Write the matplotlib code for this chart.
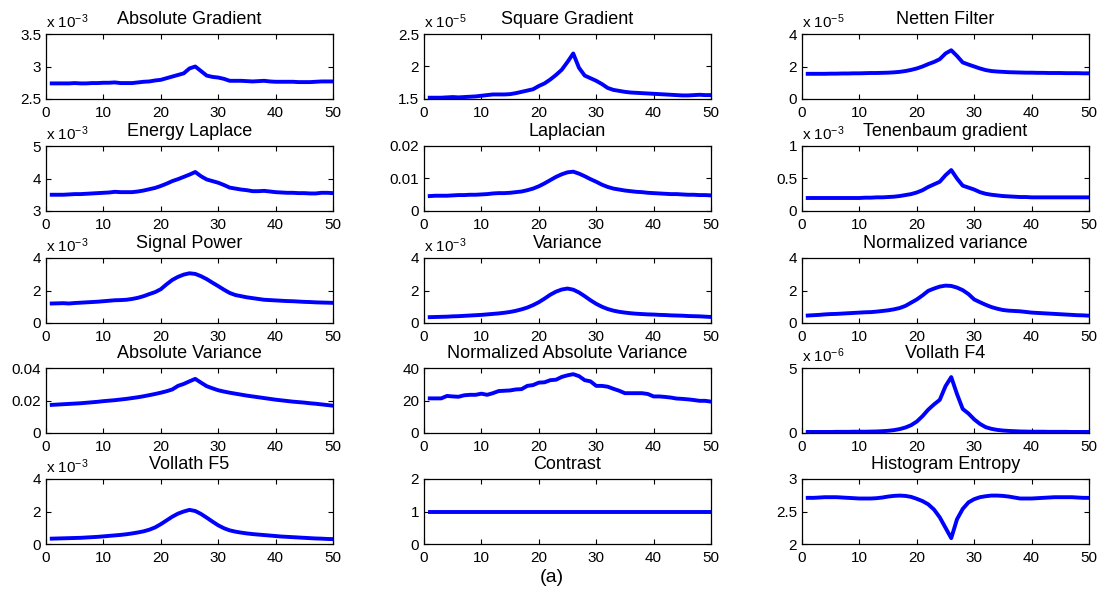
import numpy as np
import matplotlib
matplotlib.use('Agg')
import matplotlib.pyplot as plt
from matplotlib.ticker import FuncFormatter

plt.rcParams['font.family'] = ['Liberation Sans', 'DejaVu Sans']
plt.rcParams['mathtext.fontset'] = 'custom'
plt.rcParams['mathtext.rm'] = 'Liberation Sans'
plt.rcParams['mathtext.it'] = 'Liberation Sans:italic'

# focus measure curves over the 50 frames of the stack
frames = np.arange(1, 51)

abs_gradient = [2.74, 2.74, 2.74, 2.74, 2.745, 2.74, 2.74, 2.745, 2.745, 2.75,
                2.75, 2.755, 2.745, 2.745, 2.745, 2.755, 2.765, 2.77, 2.785, 2.795,
                2.82, 2.845, 2.87, 2.895, 2.97, 3.0, 2.93, 2.86, 2.84, 2.83,
                2.81, 2.78, 2.78, 2.78, 2.775, 2.77, 2.775, 2.78, 2.77, 2.765,
                2.765, 2.765, 2.765, 2.76, 2.76, 2.76, 2.765, 2.77, 2.77, 2.77]
sq_gradient = [1.52, 1.52, 1.52, 1.525, 1.53, 1.525, 1.53, 1.535, 1.54, 1.55,
               1.56, 1.57, 1.57, 1.57, 1.575, 1.59, 1.61, 1.63, 1.65, 1.70,
               1.74, 1.80, 1.87, 1.95, 2.07, 2.20, 1.98, 1.86, 1.82, 1.78,
               1.73, 1.67, 1.64, 1.625, 1.61, 1.60, 1.595, 1.59, 1.585, 1.58,
               1.575, 1.57, 1.565, 1.56, 1.555, 1.555, 1.56, 1.565, 1.56, 1.56]
netten = [1.55, 1.55, 1.55, 1.55, 1.56, 1.56, 1.57, 1.57, 1.58, 1.58,
          1.59, 1.6, 1.6, 1.61, 1.62, 1.64, 1.67, 1.72, 1.79, 1.88,
          2.0, 2.15, 2.28, 2.45, 2.8, 3.0, 2.65, 2.25, 2.12, 2.0,
          1.88, 1.78, 1.72, 1.69, 1.67, 1.65, 1.64, 1.63, 1.62, 1.62,
          1.61, 1.61, 1.6, 1.6, 1.6, 1.59, 1.59, 1.59, 1.58, 1.58]
energy_lap = [3.5, 3.5, 3.5, 3.51, 3.52, 3.52, 3.53, 3.54, 3.55, 3.56,
              3.57, 3.59, 3.58, 3.58, 3.58, 3.6, 3.63, 3.67, 3.71, 3.77,
              3.84, 3.92, 3.98, 4.05, 4.12, 4.2, 4.07, 3.97, 3.92, 3.87,
              3.8, 3.72, 3.69, 3.66, 3.64, 3.61, 3.61, 3.62, 3.6, 3.58,
              3.57, 3.56, 3.56, 3.55, 3.55, 3.54, 3.54, 3.56, 3.56, 3.55]
laplacian = [0.0046, 0.0047, 0.0047, 0.0047, 0.0048, 0.0049, 0.0049, 0.005, 0.005, 0.0051,
             0.0052, 0.0054, 0.0055, 0.0055, 0.0056, 0.0058, 0.006, 0.0064, 0.0069, 0.0076,
             0.0085, 0.0095, 0.0105, 0.0113, 0.0119, 0.0121, 0.0115, 0.0107, 0.0098, 0.009,
             0.0081, 0.0074, 0.0069, 0.0066, 0.0063, 0.0061, 0.0059, 0.0058, 0.0056, 0.0055,
             0.0054, 0.0053, 0.0052, 0.0052, 0.0051, 0.005, 0.005, 0.0049, 0.0049, 0.0048]
tenenbaum = [0.2, 0.2, 0.2, 0.2, 0.2, 0.2, 0.2, 0.2, 0.2, 0.2,
             0.205, 0.205, 0.21, 0.21, 0.215, 0.22, 0.23, 0.245, 0.26, 0.285,
             0.32, 0.37, 0.41, 0.45, 0.55, 0.63, 0.5, 0.39, 0.36, 0.33,
             0.29, 0.265, 0.25, 0.24, 0.23, 0.225, 0.22, 0.215, 0.215, 0.21,
             0.21, 0.21, 0.21, 0.21, 0.21, 0.21, 0.21, 0.21, 0.21, 0.21]
signal_power = [1.2, 1.21, 1.22, 1.2, 1.23, 1.25, 1.27, 1.29, 1.31, 1.34,
                1.37, 1.4, 1.41, 1.43, 1.48, 1.55, 1.65, 1.78, 1.9, 2.08,
                2.38, 2.65, 2.84, 2.98, 3.06, 3.02, 2.88, 2.7, 2.48, 2.27,
                2.05, 1.85, 1.72, 1.65, 1.58, 1.53, 1.48, 1.43, 1.41, 1.39,
                1.37, 1.35, 1.34, 1.32, 1.3, 1.29, 1.27, 1.26, 1.25, 1.24]
variance = [0.36, 0.37, 0.38, 0.39, 0.41, 0.42, 0.44, 0.46, 0.48, 0.5,
            0.53, 0.56, 0.59, 0.63, 0.68, 0.75, 0.84, 0.95, 1.1, 1.28,
            1.5, 1.74, 1.93, 2.06, 2.12, 2.05, 1.88, 1.65, 1.4, 1.18,
            1.0, 0.86, 0.76, 0.69, 0.64, 0.6, 0.57, 0.55, 0.53, 0.52,
            0.5, 0.49, 0.47, 0.46, 0.45, 0.43, 0.42, 0.41, 0.39, 0.37]
norm_variance = [0.46, 0.48, 0.5, 0.53, 0.55, 0.56, 0.58, 0.6, 0.62, 0.64,
                 0.66, 0.67, 0.7, 0.74, 0.78, 0.84, 0.92, 1.05, 1.25, 1.45,
                 1.7, 1.98, 2.12, 2.24, 2.3, 2.28, 2.18, 2.02, 1.78, 1.45,
                 1.28, 1.12, 0.98, 0.88, 0.8, 0.76, 0.74, 0.72, 0.68, 0.64,
                 0.62, 0.6, 0.58, 0.56, 0.54, 0.52, 0.5, 0.48, 0.47, 0.45]
abs_variance = [0.0173, 0.0175, 0.0177, 0.0179, 0.0181, 0.0183, 0.0186, 0.0189, 0.0192, 0.0196,
                0.0199, 0.0202, 0.0206, 0.021, 0.0215, 0.022, 0.0226, 0.0233, 0.024, 0.0248,
                0.0257, 0.0268, 0.029, 0.0302, 0.0318, 0.0333, 0.031, 0.0288, 0.0275, 0.0263,
                0.0255, 0.0248, 0.0242, 0.0236, 0.023, 0.0225, 0.022, 0.0215, 0.021, 0.0205,
                0.0201, 0.0197, 0.0193, 0.019, 0.0187, 0.0183, 0.018, 0.0176, 0.0172, 0.0168]
norm_abs_variance = [21.3, 21.3, 21.3, 22.8, 22.5, 22.3, 23.2, 23.5, 23.5, 24.2,
                     23.5, 24.5, 25.8, 26.0, 26.2, 26.8, 27.0, 29.0, 29.5, 31.0,
                     31.2, 32.5, 32.8, 34.5, 35.5, 36.2, 35.0, 32.5, 31.8, 29.0,
                     29.0, 28.5, 27.2, 26.0, 24.5, 24.5, 24.5, 24.5, 24.0, 22.5,
                     22.5, 22.2, 21.8, 21.2, 21.0, 20.7, 20.3, 19.8, 19.8, 19.3]
vollath_f4 = [0.08, 0.08, 0.08, 0.08, 0.08, 0.09, 0.09, 0.09, 0.1, 0.1,
              0.1, 0.11, 0.12, 0.14, 0.17, 0.22, 0.3, 0.42, 0.6, 0.88,
              1.3, 1.8, 2.2, 2.55, 3.6, 4.3, 3.0, 1.85, 1.5, 1.05,
              0.7, 0.45, 0.32, 0.24, 0.19, 0.16, 0.14, 0.12, 0.11, 0.1,
              0.1, 0.1, 0.09, 0.09, 0.09, 0.09, 0.08, 0.08, 0.08, 0.08]
vollath_f5 = [0.33, 0.34, 0.35, 0.36, 0.37, 0.38, 0.4, 0.42, 0.44, 0.47,
              0.5, 0.53, 0.56, 0.6, 0.65, 0.71, 0.78, 0.88, 1.02, 1.22,
              1.45, 1.68, 1.87, 2.0, 2.1, 2.03, 1.85, 1.62, 1.38, 1.15,
              0.97, 0.84, 0.76, 0.7, 0.65, 0.61, 0.58, 0.55, 0.52, 0.49,
              0.46, 0.44, 0.42, 0.4, 0.38, 0.36, 0.34, 0.33, 0.31, 0.3]
contrast = [1.0] * 50
hist_entropy = [2.71, 2.71, 2.715, 2.72, 2.72, 2.72, 2.715, 2.71, 2.705, 2.70,
                2.70, 2.70, 2.705, 2.715, 2.73, 2.74, 2.745, 2.74, 2.725, 2.695,
                2.66, 2.61, 2.53, 2.41, 2.25, 2.09, 2.38, 2.54, 2.64, 2.69,
                2.72, 2.735, 2.745, 2.745, 2.74, 2.73, 2.715, 2.70, 2.70, 2.70,
                2.705, 2.71, 2.715, 2.72, 2.72, 2.72, 2.72, 2.715, 2.71, 2.71]

titles = ['Absolute Gradient', 'Square Gradient', 'Netten Filter',
          'Energy Laplace', 'Laplacian', 'Tenenbaum gradient',
          'Signal Power', 'Variance', 'Normalized variance',
          'Absolute Variance', 'Normalized Absolute Variance', 'Vollath F4',
          'Vollath F5', 'Contrast', 'Histogram Entropy']
series = [abs_gradient, sq_gradient, netten,
          energy_lap, laplacian, tenenbaum,
          signal_power, variance, norm_variance,
          abs_variance, norm_abs_variance, vollath_f4,
          vollath_f5, contrast, hist_entropy]
# power of ten shown above the axis (None = plain ticks)
exponents = [-3, -5, -5,
             -3, None, -3,
             -3, -3, None,
             None, None, -6,
             -3, None, None]
yticks = [[2.5, 3, 3.5], [1.5, 2, 2.5], [0, 2, 4],
          [3, 4, 5], [0, 0.01, 0.02], [0, 0.5, 1],
          [0, 2, 4], [0, 2, 4], [0, 2, 4],
          [0, 0.02, 0.04], [0, 20, 40], [0, 5],
          [0, 2, 4], [0, 1, 2], [2, 2.5, 3]]

W, H = 1103, 598
fig = plt.figure(figsize=(W / 100, H / 100), dpi=100)

col_left = [46, 424, 802]
row_top = [34, 146, 258, 368, 479]
ax_w, ax_h = 287, 65

for k in range(15):
    r, c = divmod(k, 3)
    ax = fig.add_axes([col_left[c] / W, 1 - (row_top[r] + ax_h) / H, ax_w / W, ax_h / H])
    exp = exponents[k]
    scale = 1.0 if exp is None else 10.0 ** exp
    y = np.array(series[k]) * scale
    ax.plot(frames, y, color=(0, 0, 1), lw=2.8)
    ax.set_xlim(0, 50)
    ticks = np.array(yticks[k])
    ax.set_ylim(ticks[0] * scale, ticks[-1] * scale)
    ax.set_yticks(ticks * scale)
    ax.set_xticks(range(0, 51, 10))
    ax.yaxis.set_major_formatter(FuncFormatter(lambda v, p, s=scale: '%g' % round(v / s, 6)))
    ax.tick_params(direction='in', top=True, right=True, length=3.5, width=0.8,
                   labelsize=11, pad=3.5)
    ax.tick_params(axis='x', pad=5)
    for sp in ax.spines.values():
        sp.set_linewidth(0.9)
    ax.set_title(titles[k], fontsize=13, pad=7)
    if exp is not None:
        ax.text(0.0, 1.05, 'x 10$^{%d}$' % exp, transform=ax.transAxes,
                fontsize=11, ha='left', va='bottom')

fig.text(0.5, 1 - 578 / H, '(a)', ha='center', va='center', fontsize=14)

fig.savefig('out.png', dpi=100)
